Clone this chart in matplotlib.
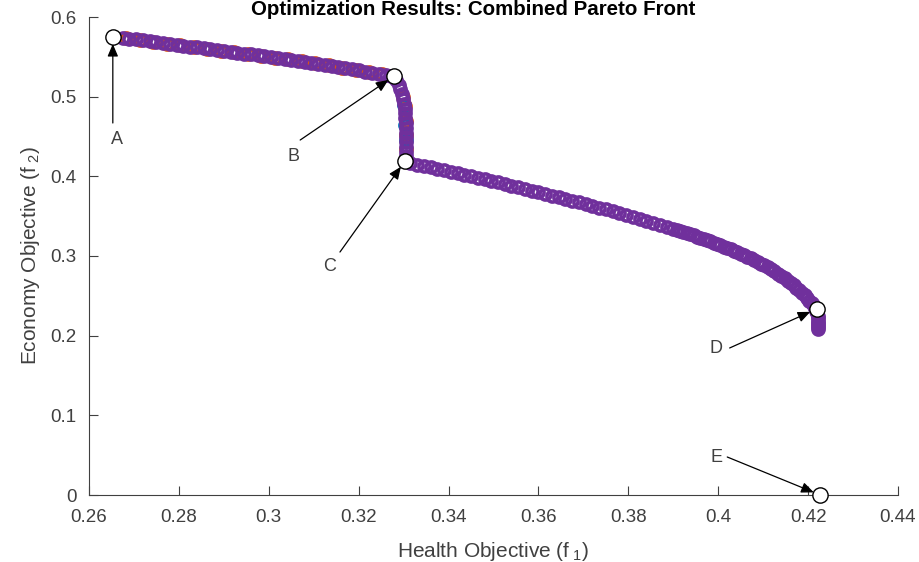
import matplotlib
matplotlib.use("Agg")
import matplotlib.pyplot as plt

plt.rcParams['font.family'] = ['Liberation Sans', 'DejaVu Sans']
plt.rcParams['mathtext.fontset'] = 'custom'
plt.rcParams['mathtext.rm'] = 'Liberation Sans'
plt.rcParams['mathtext.it'] = 'Liberation Sans'

# upper branch of the front (health vs economy)
x_upper = [0.2675, 0.2690, 0.2705, 0.2720, 0.2735, 0.2750, 0.2765, 0.2780, 0.2795, 0.2810,
           0.2825, 0.2840, 0.2855, 0.2870, 0.2885, 0.2900, 0.2915, 0.2930, 0.2945, 0.2960,
           0.2975, 0.2990, 0.3005, 0.3020, 0.3035, 0.3050, 0.3065, 0.3080, 0.3095, 0.3110,
           0.3125, 0.3140, 0.3155, 0.3170, 0.3185, 0.3200, 0.3215, 0.3230, 0.3245, 0.3260,
           0.3272]
y_upper = [0.5740, 0.5730, 0.5718, 0.5706, 0.5693, 0.5681, 0.5670, 0.5660, 0.5650, 0.5640,
           0.5629, 0.5618, 0.5607, 0.5596, 0.5585, 0.5574, 0.5563, 0.5552, 0.5541, 0.5530,
           0.5519, 0.5508, 0.5497, 0.5486, 0.5474, 0.5462, 0.5450, 0.5438, 0.5426, 0.5414,
           0.5401, 0.5388, 0.5374, 0.5360, 0.5345, 0.5330, 0.5315, 0.5300, 0.5286, 0.5274,
           0.5262]

# steep drop between B and C
x_drop = [0.3283, 0.3289, 0.3293, 0.3296, 0.3299, 0.3301, 0.3302, 0.3303, 0.3304, 0.3305,
          0.3305, 0.3305, 0.3306, 0.3306, 0.3306, 0.3305, 0.3305]
y_drop = [0.5209, 0.5150, 0.5090, 0.5030, 0.4970, 0.4910, 0.4850, 0.4790, 0.4730, 0.4670,
          0.4610, 0.4550, 0.4490, 0.4430, 0.4370, 0.4310, 0.4250]

# lower branch from C down to D
x_lower = [0.3315, 0.3330, 0.3345, 0.3360, 0.3375, 0.3390, 0.3405, 0.3420, 0.3435, 0.3450,
           0.3465, 0.3480, 0.3495, 0.3510, 0.3525, 0.3540, 0.3555, 0.3570, 0.3585, 0.3600,
           0.3615, 0.3630, 0.3645, 0.3660, 0.3675, 0.3690, 0.3705, 0.3720, 0.3735, 0.3750,
           0.3765, 0.3780, 0.3795, 0.3810, 0.3825, 0.3840, 0.3855, 0.3870, 0.3885, 0.3900,
           0.39075, 0.3915, 0.39225, 0.3930, 0.39375, 0.3945, 0.39525, 0.3960, 0.39675, 0.3975,
           0.39825, 0.3990, 0.39975, 0.4005, 0.40125, 0.4020, 0.40275, 0.4035, 0.40425, 0.4050,
           0.40575, 0.4065, 0.40725, 0.4080, 0.40875, 0.4095, 0.41025, 0.4110, 0.41175, 0.4125,
           0.41325, 0.4140, 0.41475, 0.4155, 0.4162, 0.4168, 0.4174, 0.4180, 0.4186, 0.4192,
           0.4198, 0.4203, 0.4208, 0.4212, 0.4215, 0.4218, 0.4220, 0.4221, 0.4222, 0.4222,
           0.4222, 0.4222, 0.4222, 0.4222]
y_lower = [0.4165, 0.4148, 0.4130, 0.4112, 0.4094, 0.4076, 0.4056, 0.4038, 0.4019, 0.4000,
           0.3982, 0.3963, 0.3944, 0.3924, 0.3903, 0.3882, 0.3861, 0.3840, 0.3819, 0.3798,
           0.3777, 0.3756, 0.3735, 0.3715, 0.3694, 0.3673, 0.3652, 0.3630, 0.3607, 0.3584,
           0.3561, 0.3538, 0.3515, 0.3492, 0.3468, 0.3443, 0.3418, 0.3392, 0.3366, 0.3340,
           0.3327, 0.3313, 0.3300, 0.3286, 0.3272, 0.3258, 0.3244, 0.3230, 0.3215, 0.3200,
           0.3184, 0.3168, 0.3152, 0.3136, 0.3119, 0.3102, 0.3085, 0.3067, 0.3049, 0.3030,
           0.3011, 0.2992, 0.2971, 0.2950, 0.2928, 0.2905, 0.2881, 0.2857, 0.2832, 0.2806,
           0.2778, 0.2750, 0.2720, 0.2690, 0.2660, 0.2630, 0.2600, 0.2570, 0.2538, 0.2505,
           0.2472, 0.2440, 0.2408, 0.2375, 0.2342, 0.2310, 0.2280, 0.2250, 0.2220, 0.2190,
           0.2160, 0.2130, 0.2105, 0.2080]

# solutions from the other runs, mostly hidden under the final front
x_run2 = [0.2683, 0.2713, 0.2743, 0.2773, 0.2803, 0.2833, 0.2863, 0.2893, 0.2923, 0.2953,
          0.2983, 0.3013, 0.3043, 0.3073, 0.3103, 0.3133, 0.3163, 0.3193, 0.3223, 0.3253,
          0.3298, 0.3302, 0.3305, 0.3306, 0.3305]
y_run2 = [0.5733, 0.5710, 0.5686, 0.5663, 0.5643, 0.5622, 0.5600, 0.5578, 0.5556, 0.5535,
          0.5513, 0.5491, 0.5468, 0.5444, 0.5420, 0.5393, 0.5366, 0.5337, 0.5307, 0.5279,
          0.5000, 0.4880, 0.4700, 0.4520, 0.4340]
x_run1 = [0.3301, 0.3304, 0.3306]
y_run1 = [0.4900, 0.4640, 0.4460]

# highlighted solutions A-E
key_labels = ['A', 'B', 'C', 'D', 'E']
key_x = [0.2653, 0.3279, 0.3303, 0.4219, 0.4227]
key_y = [0.5749, 0.5259, 0.4192, 0.2335, 0.0]

x_ticks = [0.26, 0.28, 0.30, 0.32, 0.34, 0.36, 0.38, 0.40, 0.42, 0.44]
x_tick_labels = ['0.26', '0.28', '0.3', '0.32', '0.34', '0.36', '0.38', '0.4', '0.42', '0.44']
y_ticks = [0, 0.1, 0.2, 0.3, 0.4, 0.5, 0.6]
y_tick_labels = ['0', '0.1', '0.2', '0.3', '0.4', '0.5', '0.6']

# arrow tail and label offsets (pixels) for each highlighted point
tail_px = [(0, -86), (-94, -64), (-65, -91), (-87, -39), (-93, 38)]
label_px = [(4, -103), (-101, -80), (-75, -105), (-101, -40), (-104, 38)]

txt = '#404040'
purple = '#70309C'
orange = '#D95319'
blue = '#0072BD'

fig = plt.figure(figsize=(9.2, 5.62), dpi=100)
ax = fig.add_axes([89 / 920, 1 - 495 / 562, 809 / 920, 478 / 562])

mk = dict(marker='o', linestyle='none', markerfacecolor='none', markersize=8, markeredgewidth=2.6)
ax.plot(x_run2, y_run2, markeredgecolor=orange, **mk)
ax.plot(x_run1, y_run1, markeredgecolor=blue, **mk)
ax.plot(x_upper + x_drop + x_lower, y_upper + y_drop + y_lower, markeredgecolor=purple, **mk)

ax.plot(key_x, key_y, marker='o', linestyle='none', markersize=11,
        markerfacecolor='white', markeredgecolor='black', markeredgewidth=1.0,
        clip_on=False, zorder=5)

pt = 0.72
for lab, kx, ky, (tx, ty), (lx, ly) in zip(key_labels, key_x, key_y, tail_px, label_px):
    ax.annotate('', xy=(kx, ky), xytext=(tx * pt, ty * pt), textcoords='offset points',
                arrowprops=dict(arrowstyle='-|>,head_length=0.75,head_width=0.32',
                                color='black', lw=0.9, shrinkA=0, shrinkB=5),
                annotation_clip=False, zorder=6)
    ax.annotate(lab, xy=(kx, ky), xytext=(lx * pt, ly * pt), textcoords='offset points',
                ha='center', va='center', fontsize=13, color=txt, annotation_clip=False)

ax.set_xlim(0.26, 0.44)
ax.set_ylim(0, 0.6)
ax.set_xticks(x_ticks)
ax.set_xticklabels(x_tick_labels)
ax.set_yticks(y_ticks)
ax.set_yticklabels(y_tick_labels)
ax.tick_params(direction='in', length=6.5, width=0.8, color='#404040', labelcolor=txt,
               labelsize=13.5)
ax.tick_params(axis='x', pad=10)
ax.tick_params(axis='y', pad=9)
for side in ['top', 'right']:
    ax.spines[side].set_visible(False)
for side in ['left', 'bottom']:
    ax.spines[side].set_color('#404040')
    ax.spines[side].set_linewidth(0.8)

ax.set_xlabel('Health Objective (f$_{\\ 1}$)', fontsize=15, color=txt, labelpad=10)
ax.set_ylabel('Economy Objective (f$_{\\ 2}$)', fontsize=15, color=txt, labelpad=6)

fig.text(0.514, 1 - 15 / 562, 'Optimization Results: Combined Pareto Front',
         ha='center', va='baseline', fontsize=14.8, fontweight='bold', color='black')

fig.savefig('out.png', dpi=100)
